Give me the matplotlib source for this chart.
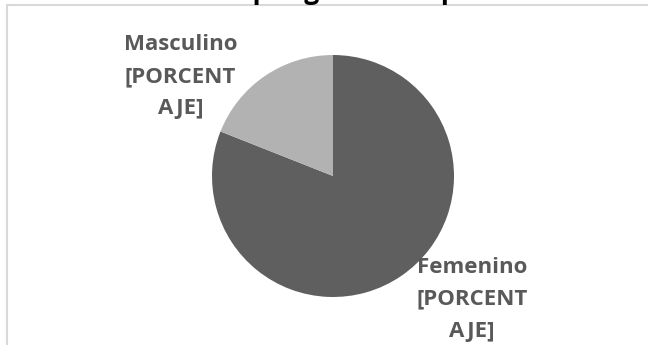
import matplotlib.pyplot as plt
from matplotlib.patches import Rectangle

# Datos
categorias = ["Femenino", "Masculino"]
porcentajes = [81, 19]
etiquetas = ["Femenino\n[PORCENT\nAJE]", "Masculino\n[PORCENT\nAJE]"]
titulo = "Distribución por género de pacientes"

colores = ["#5f5f5f", "#b2b2b2"]
W, H = 648, 345

fig = plt.figure(figsize=(W / 100, H / 100), dpi=100)
fig.patch.set_facecolor("white")

# Marco del gráfico (se sale por la derecha y por abajo)
fig.patches.append(Rectangle((7 / W, -0.1), 1.2, 1 - 5 / H + 0.1,
                             transform=fig.transFigure, fill=False,
                             edgecolor="#d9d9d9", linewidth=1.5))

# Título cortado por arriba, como en el original
fig.text(326 / W, 1.0 + 1 / H, titulo, ha="center", va="baseline",
         fontsize=19, fontweight="bold", family="Open Sans", color="black")

# Pastel
cx, cy, r = 333, 176, 121
ax = fig.add_axes([(cx - r) / W, (H - cy - r) / H, 2 * r / W, 2 * r / H])
ax.pie(porcentajes, colors=colores, startangle=90, counterclock=False,
       wedgeprops=dict(linewidth=0))
ax.set_xlim(-1, 1)
ax.set_ylim(-1, 1)
ax.set_aspect("equal")
ax.axis("off")

# Etiquetas de datos
pos_etiquetas = [(1.15, -1.02), (-1.26, 0.82)]
for texto, (x, y) in zip(etiquetas, pos_etiquetas):
    ax.text(x, y, texto, ha="center", va="center", fontsize=16,
            fontweight="bold", family="Open Sans", color="#595959",
            linespacing=1.68, clip_on=False)

fig.savefig("out.png", dpi=100)
